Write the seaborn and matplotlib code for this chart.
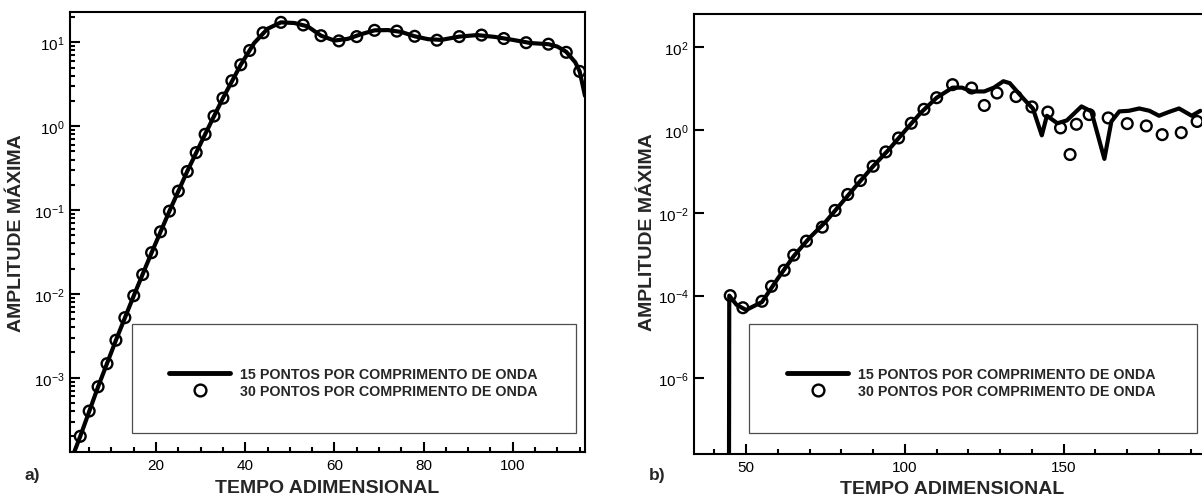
import numpy as np
import pandas as pd
import matplotlib
matplotlib.use('Agg')
import matplotlib.pyplot as plt
import seaborn as sns
from matplotlib.lines import Line2D
from matplotlib.patches import Rectangle
from matplotlib.ticker import (LogLocator, FixedLocator, MultipleLocator,
                               LogFormatterMathtext, NullFormatter, NullLocator)

# a) curva 15 pontos (linha) e 30 pontos (circulos)
t_line_a = [0.5, 3, 7, 11, 15, 19, 23, 27, 31, 35, 39, 42, 45, 48, 51, 54, 57, 60,
            63, 66, 69, 72, 75, 78, 81, 84, 88, 92, 96, 100, 104, 108, 110, 112,
            114, 115, 116.2]
amp_line_a = [9e-5, 2.0e-4, 7.8e-4, 2.8e-3, 9.5e-3, 3.1e-2, 0.097, 0.29, 0.80, 2.16,
              5.4, 9.8, 14.5, 17.3, 17.0, 15.5, 12.0, 10.5, 11.0, 12.5, 13.9, 14.0,
              13.3, 11.8, 10.9, 10.7, 11.7, 12.2, 11.6, 10.7, 9.8, 9.5, 8.9, 7.7,
              5.8, 4.5, 2.3]
t_circ_a = [3, 5, 7, 9, 11, 13, 15, 17, 19, 21, 23, 25, 27, 29, 31, 33, 35, 37, 39,
            41, 44, 48, 53, 57, 61, 65, 69, 74, 78, 83, 88, 93, 98, 103, 108, 112, 115]
amp_circ_a = [2.0e-4, 4.0e-4, 7.8e-4, 1.47e-3, 2.8e-3, 5.2e-3, 9.5e-3, 1.7e-2, 3.1e-2,
              0.055, 0.097, 0.168, 0.288, 0.484, 0.80, 1.32, 2.16, 3.48, 5.4, 8.0,
              13.0, 17.3, 16.1, 12.0, 10.4, 11.7, 13.9, 13.6, 11.8, 10.6, 11.7, 12.2,
              11.1, 9.9, 9.5, 7.6, 4.5]

# b)
t_line_b = [44.6, 44.7, 47, 50, 55, 60, 65, 70, 75, 80, 85, 90, 95, 100, 105, 110,
            115, 118, 121, 125, 128, 131, 133, 135.3, 138, 140.3, 143.1, 144.7, 148,
            151, 155.6, 158.7, 162.8, 165, 167.5, 170.5, 173.8, 177, 180, 183, 186.3,
            190.3, 193]
amp_line_b = [1e-9, 1.0e-4, 6.0e-5, 4.5e-5, 7.0e-5, 2.6e-4, 9.0e-4, 2.5e-3, 6.0e-3,
              1.7e-2, 4.8e-2, 0.133, 0.34, 0.95, 2.6, 6.0, 10.5, 10.5, 8.5, 8.5, 10.5,
              15, 13.5, 8.5, 5.0, 3.3, 0.74, 2.2, 1.45, 1.7, 3.7, 2.8, 0.2, 1.6, 2.8,
              2.9, 3.3, 2.9, 2.2, 2.7, 3.3, 2.2, 2.9]
t_circ_b = [45, 49, 55, 58, 62, 65, 69, 74, 78, 82, 86, 90, 94, 98, 102, 106, 110,
            115, 121, 125, 129, 135, 140, 145, 149, 152, 154, 158, 164, 170, 176,
            181, 187, 192]
amp_circ_b = [1.0e-4, 5.1e-5, 7.3e-5, 1.68e-4, 4.1e-4, 9.5e-4, 2.07e-3, 4.5e-3,
              1.14e-2, 2.77e-2, 6.0e-2, 0.133, 0.295, 0.64, 1.45, 3.15, 6.0, 12.4,
              10.3, 3.9, 7.8, 6.4, 3.6, 2.7, 1.12, 0.255, 1.37, 2.35, 1.95, 1.42,
              1.25, 0.77, 0.86, 1.6]

legend_labels = ['15 PONTOS POR COMPRIMENTO DE ONDA', '30 PONTOS POR COMPRIMENTO DE ONDA']
xlabel = 'TEMPO ADIMENSIONAL'
ylabel = 'AMPLITUDE MÁXIMA'

sns.set_theme(style='ticks')
plt.rcParams['font.family'] = ['Liberation Sans', 'DejaVu Sans']
plt.rcParams['mathtext.default'] = 'regular'

W, H = 1202, 502
fig = plt.figure(figsize=(W / 100, H / 100), dpi=100)


def px_axes(l, t, r, b):
    return fig.add_axes([l / W, 1 - b / H, (r - l) / W, (b - t) / H])


ax_a = px_axes(70, 13, 585, 453)
ax_b = px_axes(694, 15, 1213, 455)


def draw(ax, tl, al, tc, ac):
    sns.lineplot(x=tl, y=al, ax=ax, color='black', linewidth=3, sort=False,
                 estimator=None, zorder=2)
    sns.scatterplot(x=tc, y=ac, ax=ax, marker='o', s=60, facecolors='none',
                    edgecolor='black', linewidth=1.7, zorder=3)
    ax.set_yscale('log')
    for sp in ax.spines.values():
        sp.set_color('black')
        sp.set_linewidth(1.5)
    ax.tick_params(which='both', direction='in', top=False, right=False,
                   width=1.5, colors='black', labelsize=11, pad=4)
    ax.tick_params(which='major', length=7)
    ax.tick_params(which='minor', length=3.8)
    ax.set_xlabel('')
    ax.set_ylabel('')


draw(ax_a, t_line_a, amp_line_a, t_circ_a, amp_circ_a)
draw(ax_b, t_line_b, amp_line_b, t_circ_b, amp_circ_b)

# eixos a)
ax_a.set_xlim(0.7, 116.2)
ax_a.set_ylim(1.3e-4, 23)
ax_a.xaxis.set_major_locator(MultipleLocator(20))
ax_a.xaxis.set_minor_locator(MultipleLocator(5))
ax_a.yaxis.set_major_locator(LogLocator(base=10, numticks=20))
ax_a.yaxis.set_minor_locator(LogLocator(base=10, subs=np.arange(2, 10), numticks=20))
ax_a.yaxis.set_major_formatter(LogFormatterMathtext())
ax_a.yaxis.set_minor_formatter(NullFormatter())

# eixos b)
ax_b.set_xlim(33.6, 197)
ax_b.set_ylim(1.5e-8, 630)
ax_b.xaxis.set_major_locator(MultipleLocator(50))
ax_b.xaxis.set_minor_locator(MultipleLocator(10))
ax_b.yaxis.set_major_locator(FixedLocator([1e-6, 1e-4, 1e-2, 1, 1e2]))
ax_b.yaxis.set_minor_locator(NullLocator())
ax_b.yaxis.set_major_formatter(LogFormatterMathtext())

handles = [Line2D([], [], color='black', lw=3.5),
           Line2D([], [], color='black', marker='o', ls='none', markersize=8.5,
                  markerfacecolor='none', markeredgewidth=1.7)]

for ax, box, anchor in [(ax_a, (0.12, 0.043, 0.8625, 0.248), (0.192, 0.158)),
                        (ax_b, (0.106, 0.048, 0.863, 0.247), (0.179, 0.1625))]:
    ax.add_patch(Rectangle(box[:2], box[2], box[3], transform=ax.transAxes,
                           facecolor='white', edgecolor='0.3', lw=0.9, zorder=4))
    leg = ax.legend(handles, legend_labels, loc='center left', bbox_to_anchor=anchor,
                    frameon=False, borderpad=0, borderaxespad=0, handlelength=4.3,
                    handletextpad=0.7, labelspacing=0.15,
                    prop={'weight': 'bold', 'size': 10.3})
    leg.set_zorder(5)

fig.text(327.5 / W, 1 - 489 / H, xlabel, ha='center', va='center',
         fontsize=14, fontweight='bold')
fig.text(952 / W, 1 - 490 / H, xlabel, ha='center', va='center',
         fontsize=14, fontweight='bold')
fig.text(17 / W, 1 - 233 / H, ylabel, ha='center', va='center', rotation=90,
         fontsize=14, fontweight='bold')
fig.text(647 / W, 1 - 232 / H, ylabel, ha='center', va='center', rotation=90,
         fontsize=14, fontweight='bold')
fig.text(32 / W, 1 - 476 / H, 'a)', ha='center', va='center',
         fontsize=12.5, fontweight='bold')
fig.text(657 / W, 1 - 476 / H, 'b)', ha='center', va='center',
         fontsize=12.5, fontweight='bold')

fig.savefig('out.png', dpi=100)
